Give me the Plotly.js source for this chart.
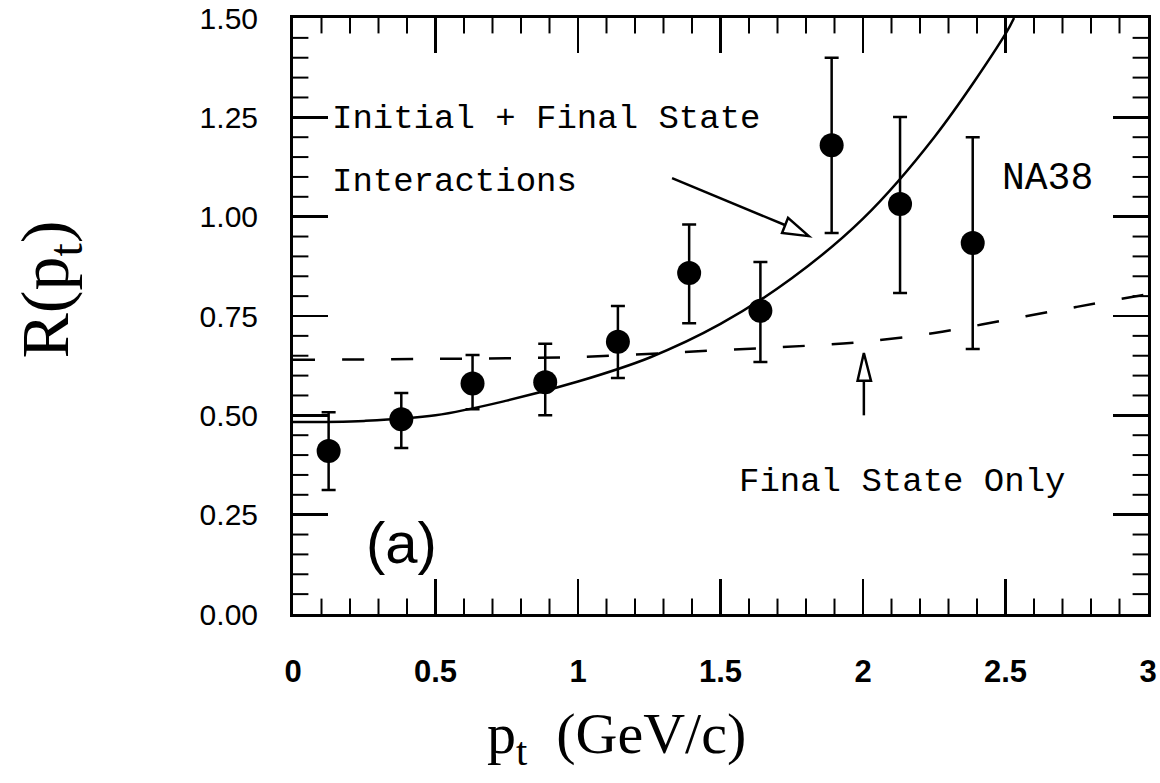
<!DOCTYPE html>
<html>
<head>
<meta charset="utf-8">
<script src="https://cdn.plot.ly/plotly-3.0.1.min.js"></script>
<style>html,body{margin:0;padding:0;background:#fff;}#chart{width:1160px;height:783px;}</style>
</head>
<body>
<div id="chart"></div>
<script>
// ---- data ----
var ptData   = [0.125, 0.38, 0.63, 0.885, 1.14, 1.39, 1.64, 1.89, 2.13, 2.385];
var rData    = [0.41, 0.49, 0.58, 0.583, 0.685, 0.858, 0.763, 1.18, 1.032, 0.934];
var rUpper   = [0.508, 0.556, 0.652, 0.68, 0.775, 0.98, 0.886, 1.40, 1.251, 1.20];
var rLower   = [0.312, 0.418, 0.515, 0.50, 0.594, 0.732, 0.634, 0.959, 0.808, 0.667];

var ptInitFinal = [0, 0.25, 0.5, 0.75, 1.0, 1.25, 1.5, 1.75, 2.0, 2.25, 2.5, 2.53];
var rInitFinal  = [0.483, 0.486, 0.50, 0.537, 0.585, 0.645, 0.73, 0.845, 0.995, 1.20, 1.46, 1.50];

var ptFinalOnly = [0, 0.5, 1.0, 1.5, 1.8, 2.0, 2.25, 2.5, 2.75, 3.0];
var rFinalOnly  = [0.64, 0.642, 0.647, 0.664, 0.675, 0.685, 0.707, 0.74, 0.773, 0.805];

var xTickVals = [0, 0.5, 1, 1.5, 2, 2.5, 3];
var xTickText = ['0', '0.5', '1', '1.5', '2', '2.5', '3'];
var yTickVals = [0, 0.25, 0.5, 0.75, 1.0, 1.25, 1.5];
var yTickText = ['0.00', '0.25', '0.50', '0.75', '1.00', '1.25', '1.50'];
var xMinorStep = 0.1;
var yMinorStep = 0.05;

var errPlus  = rUpper.map(function(u, i){ return u - rData[i]; });
var errMinus = rLower.map(function(l, i){ return rData[i] - l; });

// minor tick positions (every 0.1 in x, every 0.05 in y, majors excluded)
var xMax = xTickVals[xTickVals.length - 1], yMax = yTickVals[yTickVals.length - 1];
var xMinor = [], yMinor = [];
for (var i = 1; i * xMinorStep < xMax - 1e-9; i++) { if (i % 5) xMinor.push(+(i * xMinorStep).toFixed(3)); }
for (var j = 1; j * yMinorStep < yMax - 1e-9; j++) { if (j % 5) yMinor.push(+(j * yMinorStep).toFixed(3)); }

function minorTrace(xs, ys, sym) {
  return { x: xs, y: ys, type: 'scatter', mode: 'markers', cliponaxis: true, hoverinfo: 'skip',
    marker: {symbol: sym, size: 22, color: 'black', line: {color: 'black', width: 2}} };
}

var traces = [
  { x: ptFinalOnly, y: rFinalOnly, mode: 'lines', type: 'scatter', line: {color: 'black', width: 2.5, dash: '22px,27px', shape: 'spline'}, hoverinfo: 'skip' },
  { x: ptInitFinal, y: rInitFinal, mode: 'lines', type: 'scatter', line: {color: 'black', width: 2.5, shape: 'spline'}, hoverinfo: 'skip' },
  { x: ptData, y: rData, mode: 'markers', type: 'scatter',
    marker: {color: 'black', size: 24},
    error_y: {type: 'data', symmetric: false, array: errPlus, arrayminus: errMinus, color: 'black', thickness: 2.5, width: 7} },
  minorTrace(xMinor, xMinor.map(function(){ return 0; }), 'line-ns-open'),
  minorTrace(xMinor, xMinor.map(function(){ return yMax; }), 'line-ns-open'),
  minorTrace(yMinor.map(function(){ return 0; }), yMinor, 'line-ew-open'),
  minorTrace(yMinor.map(function(){ return xMax; }), yMinor, 'line-ew-open')
];

var monoFont = 'Liberation Mono, DejaVu Sans Mono, monospace';
var layout = {
  width: 1160, height: 783,
  margin: {l: 293, r: 12, t: 18, b: 169},
  paper_bgcolor: 'white', plot_bgcolor: 'white',
  showlegend: false,
  xaxis: {
    range: [0, 3], tickmode: 'array', tickvals: xTickVals, ticktext: xTickText,
    ticks: 'inside', ticklen: 35, tickwidth: 2.5, tickcolor: 'black',
    showline: true, linewidth: 3, linecolor: 'black', mirror: 'allticks',
    showgrid: false, zeroline: false,
    tickfont: {family: 'Liberation Sans, Arial, sans-serif', size: 31, color: 'black', weight: 'bold'},
    ticklabelstandoff: 28
  },
  yaxis: {
    range: [0, 1.5], tickmode: 'array', tickvals: yTickVals, ticktext: yTickText,
    ticks: 'inside', ticklen: 35, tickwidth: 2.5, tickcolor: 'black',
    showline: true, linewidth: 3, linecolor: 'black', mirror: 'allticks',
    showgrid: false, zeroline: false,
    tickfont: {family: 'Liberation Sans, Arial, sans-serif', size: 30, color: 'black'},
    ticklabelstandoff: 26
  },
  annotations: [
    {text: 'Initial + Final State', x: 0.13, y: 1.245, xref: 'x', yref: 'y', xanchor: 'left', yanchor: 'middle', showarrow: false, font: {family: monoFont, size: 34, color: 'black'}},
    {text: 'Interactions', x: 0.13, y: 1.087, xref: 'x', yref: 'y', xanchor: 'left', yanchor: 'middle', showarrow: false, font: {family: monoFont, size: 34, color: 'black'}},
    {text: 'NA38', x: 2.48, y: 1.095, xref: 'x', yref: 'y', xanchor: 'left', yanchor: 'middle', showarrow: false, font: {family: monoFont, size: 38, color: 'black'}},
    {text: 'Final State Only', x: 1.558, y: 0.332, xref: 'x', yref: 'y', xanchor: 'left', yanchor: 'middle', showarrow: false, font: {family: monoFont, size: 34, color: 'black'}},
    {text: '(a)', x: 0.38, y: 0.18, xref: 'x', yref: 'y', xanchor: 'center', yanchor: 'middle', showarrow: false, font: {family: 'Liberation Sans, Arial, sans-serif', size: 58, color: 'black'}},
    {text: 'p<sub>t</sub>  (GeV/c)', x: 0.378, y: -0.208, xref: 'paper', yref: 'paper', xanchor: 'center', yanchor: 'middle', showarrow: false, font: {family: 'Liberation Serif, Times New Roman, serif', size: 58, color: 'black'}},
    {text: 'R(p<sub>t</sub>)', x: -0.285, y: 0.545, xref: 'paper', yref: 'paper', xanchor: 'center', yanchor: 'middle', textangle: -90, showarrow: false, font: {family: 'Liberation Serif, Times New Roman, serif', size: 68, color: 'black'}}
  ],
  shapes: [
    {type: 'line', xref: 'x', yref: 'y', x0: 1.33, y0: 1.097, x1: 1.726, y1: 0.979, line: {color: 'black', width: 2.5}},
    {type: 'path', xref: 'x', yref: 'y', path: 'M 1.81 0.951 L 1.737 0.997 L 1.716 0.959 Z', line: {color: 'black', width: 2.5}, fillcolor: 'white'},
    {type: 'line', xref: 'x', yref: 'y', x0: 2.003, y0: 0.50, x1: 2.003, y1: 0.585, line: {color: 'black', width: 2.5}},
    {type: 'path', xref: 'x', yref: 'y', path: 'M 2.003 0.657 L 1.981 0.587 L 2.028 0.587 Z', line: {color: 'black', width: 2.5}, fillcolor: 'white'}
  ]
};

Plotly.newPlot('chart', traces, layout, {displayModeBar: false, staticPlot: true});
</script>
</body>
</html>
